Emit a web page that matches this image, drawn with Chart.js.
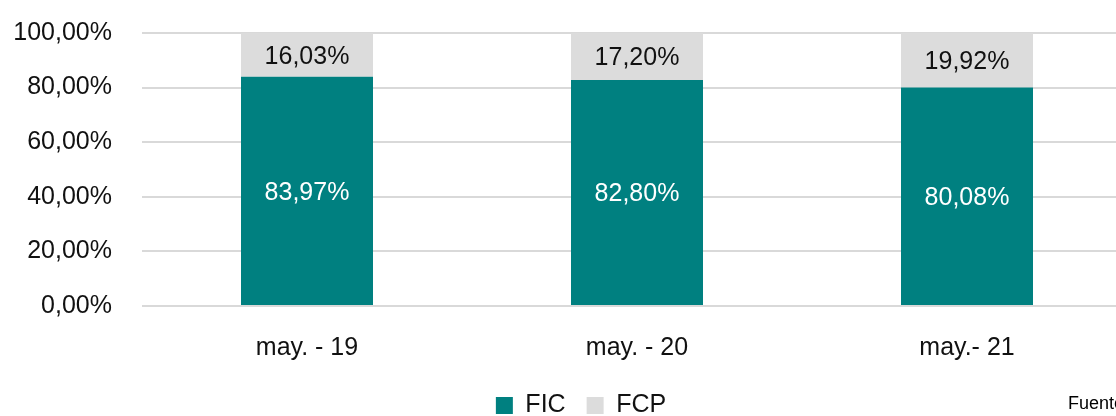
<!DOCTYPE html>
<html>
<head>
<meta charset="utf-8">
<script src="https://cdn.jsdelivr.net/npm/chart.js@4.4.1/dist/chart.umd.min.js"></script>
<style>
    html, body { margin: 0; padding: 0; background: #fff; overflow: hidden; }
    body { width: 1116px; height: 416px; position: relative; }
    #wrap { position: absolute; left: 0; top: 0; width: 1132px; height: 416px; }
    #source { position: absolute; left: 1068px; top: 393px; font-family: 'Liberation Sans', Arial, sans-serif;
              font-size: 18px; color: #000; white-space: nowrap; }
</style>
</head>
<body>
<div id="wrap"><canvas id="shareChart"></canvas></div>
<div id="source">Fuente:</div>
<script>
const categories = ['may. - 19', 'may. - 20', 'may.- 21'];
const ficValues = [83.97, 82.80, 80.08];
const fcpValues = [16.03, 17.20, 19.92];
const yTicks = [0, 20, 40, 60, 80, 100];

const FONT = "'Liberation Sans', Arial, sans-serif";

function pct(v) {
    return v.toFixed(2).replace('.', ',') + '%';
}

// draws the value in the middle of each bar segment
const barLabels = {
    id: 'barLabels',
    afterLayout(chart) {
        // let the y tick labels use the left margin too (no clipping)
        chart.scales.y.left = 0;
    },
    afterDatasetsDraw(chart) {
        const ctx = chart.ctx;
        ctx.save();
        ctx.font = '25px ' + FONT;
        ctx.textAlign = 'center';
        ctx.textBaseline = 'middle';
        chart.data.datasets.forEach((ds, i) => {
            const meta = chart.getDatasetMeta(i);
            ctx.fillStyle = i === 0 ? '#ffffff' : '#111111';
            meta.data.forEach((bar, j) => {
                const mid = (bar.y + bar.base) / 2;
                ctx.fillText(pct(ds.data[j]), bar.x, mid + 2);
            });
        });
        ctx.restore();
    }
};

new Chart(document.getElementById('shareChart'), {
    type: 'bar',
    data: {
        labels: categories,
        datasets: [{
            label: 'FIC',
            data: ficValues,
            backgroundColor: '#008080',
            barPercentage: 0.4,
            categoryPercentage: 1
        }, {
            label: 'FCP',
            data: fcpValues,
            backgroundColor: '#dcdcdc',
            barPercentage: 0.4,
            categoryPercentage: 1
        }]
    },
    options: {
        responsive: true,
        maintainAspectRatio: false,
        animation: false,
        layout: { padding: { left: 30, top: 33, right: 0, bottom: -12 } },
        scales: {
            x: {
                stacked: true,
                grid: { display: false, drawTicks: false },
                border: { display: false },
                ticks: { color: '#111', font: { family: FONT, size: 25 }, padding: 27 },
                afterFit(scale) { scale.height = 66; }
            },
            y: {
                stacked: true,
                min: 0,
                max: 100,
                afterBuildTicks(scale) { scale.ticks = yTicks.map(v => ({ value: v })); },
                grid: { color: '#d9d9d9', lineWidth: 2, drawTicks: false },
                border: { display: false },
                ticks: {
                    color: '#111',
                    font: { family: FONT, size: 25 },
                    padding: 30,
                    callback: function(value) { return pct(value); }
                },
                afterFit(scale) {
                    scale.width = 112;
                    scale.paddingTop = 15;
                    scale.paddingBottom = 15;
                }
            }
        },
        plugins: {
            legend: {
                position: 'bottom',
                labels: {
                    boxWidth: 17,
                    boxHeight: 17,
                    padding: 21,
                    color: '#111',
                    font: { family: FONT, size: 25 }
                }
            },
            tooltip: { enabled: false }
        }
    },
    plugins: [barLabels]
});
</script>
</body>
</html>
